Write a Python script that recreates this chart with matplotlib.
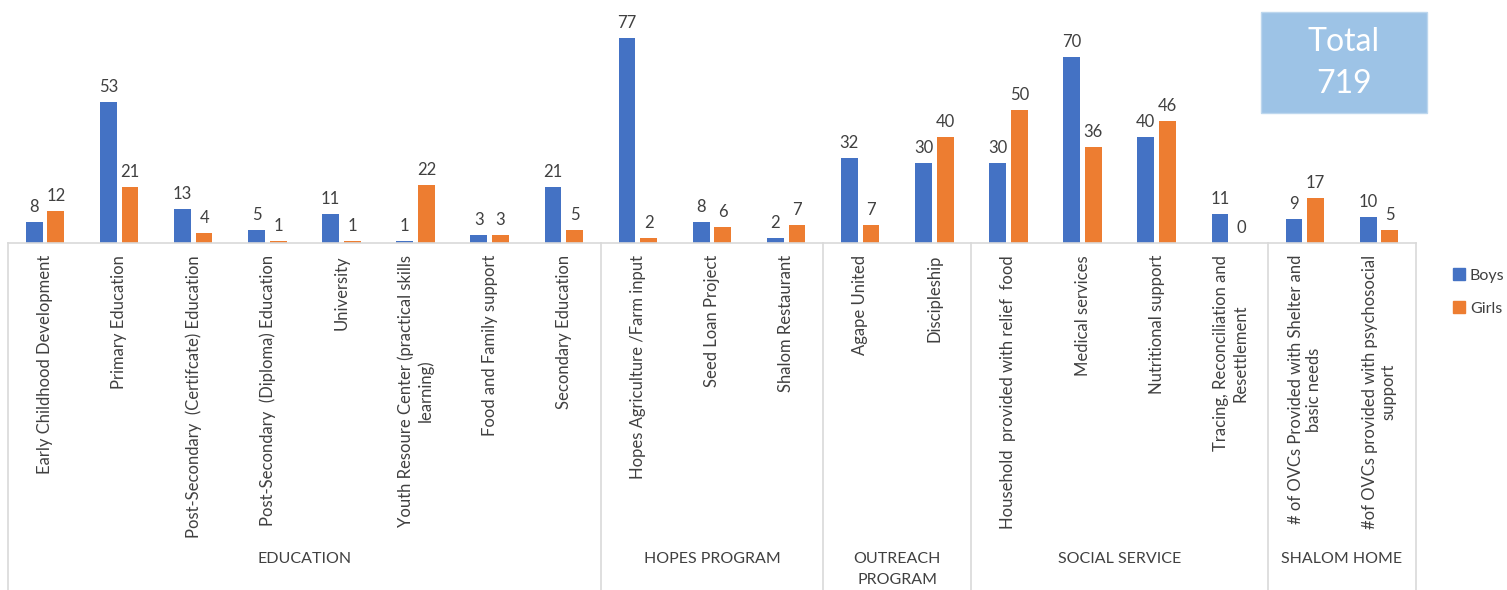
import matplotlib
matplotlib.use("Agg")
import matplotlib.pyplot as plt
import matplotlib.transforms as mtransforms
from matplotlib.lines import Line2D
from matplotlib.patches import Rectangle
import numpy as np

plt.rcParams['font.family'] = ['Lato', 'DejaVu Sans']

categories = [
    "Early Childhood Development",
    "Primary Education",
    "Post-Secondary  (Certifcate) Education",
    "Post-Secondary  (Diploma) Education",
    "University",
    "Youth Resoure Center (practical skills\nlearning)",
    "Food and Family support",
    "Secondary Education",
    "Hopes Agriculture /Farm input",
    "Seed Loan Project",
    "Shalom Restaurant",
    "Agape United",
    "Discipleship",
    "Household  provided with relief  food",
    "Medical services",
    "Nutritional support",
    "Tracing, Reconciliation and\nResettlement",
    "# of OVCs Provided with Shelter and\nbasic needs",
    "#of OVCs provided with psychosocial\nsupport",
]
groups = ["EDUCATION", "HOPES PROGRAM", "OUTREACH\nPROGRAM", "SOCIAL SERVICE", "SHALOM HOME"]
group_sizes = [8, 3, 2, 4, 2]
boys = [8, 53, 13, 5, 11, 1, 3, 21, 77, 8, 2, 32, 30, 30, 70, 40, 11, 9, 10]
girls = [12, 21, 4, 1, 1, 22, 3, 5, 2, 6, 7, 7, 40, 50, 36, 46, 0, 17, 5]
total_label = "Total\n719"

W, H = 1507, 590
fig = plt.figure(figsize=(W / 100, H / 100), dpi=100)
ax_left = 8 / W
ax_right = 1416 / W
base_y = 243.3
ax = fig.add_axes([ax_left, 1 - base_y / H, ax_right - ax_left, base_y / H])

n = len(categories)
x = np.arange(n)
bw = 0.226
off = 0.146
blue = "#4472C4"
orange = "#ED7D31"
b1 = ax.bar(x - off, boys, bw, color=blue, label="Boys")
b2 = ax.bar(x + off, girls, bw, color=orange, label="Girls")
ax.bar_label(b1, padding=5, fontsize=12, color="#404040")
ax.bar_label(b2, padding=5, fontsize=12, color="#404040")

ax.set_xlim(-0.5, n - 0.5)
ax.set_ylim(0, base_y / 2.667)
for s in ["top", "right", "left"]:
    ax.spines[s].set_visible(False)
ax.spines["bottom"].set_color("#D9D9D9")
ax.spines["bottom"].set_linewidth(1.2)
ax.set_yticks([])
ax.set_xticks([])

grey = "#404040"
trans = mtransforms.blended_transform_factory(ax.transData, fig.transFigure)

# category labels
for i, c in enumerate(categories):
    ax.text(i, 1 - 255 / H, c, transform=trans, rotation=90, ha="center", va="top",
            multialignment="center", fontsize=12, color=grey, clip_on=False)

# group separators and labels
bounds = np.concatenate([[0], np.cumsum(group_sizes)]) - 0.5
for b in bounds:
    ax.add_line(Line2D([b, b], [0, 1 - base_y / H], transform=trans, color="#D9D9D9",
                       linewidth=1.2, clip_on=False))
for g, lo, hi in zip(groups, bounds[:-1], bounds[1:]):
    ax.text((lo + hi) / 2, 1 - 552 / H, g, transform=trans, ha="center", va="top",
            multialignment="center", fontsize=11.5, color=grey, clip_on=False, linespacing=1.6)

# legend
handles = [Line2D([], [], marker="s", linestyle="none", color=blue, markersize=8),
           Line2D([], [], marker="s", linestyle="none", color=orange, markersize=8)]
fig.legend(handles, ["Boys", "Girls"], loc="upper left",
           bbox_to_anchor=(1438 / W, 1 - 254 / H), frameon=False, fontsize=11.5,
           handlelength=0.8, handletextpad=0.3, labelspacing=1.2, labelcolor=grey)

# total box
fig.patches.append(Rectangle((1261 / W, 1 - 113 / H), (1427 - 1261) / W, (113 - 12) / H,
                             transform=fig.transFigure, facecolor="#9DC3E6",
                             edgecolor="#BDD7EE", linewidth=1))
fig.text((1261 + 1427) / 2 / W, 1 - 63 / H, total_label, ha="center", va="center",
         fontsize=23, color="white", linespacing=1.5)

fig.savefig("out.png", dpi=100)
